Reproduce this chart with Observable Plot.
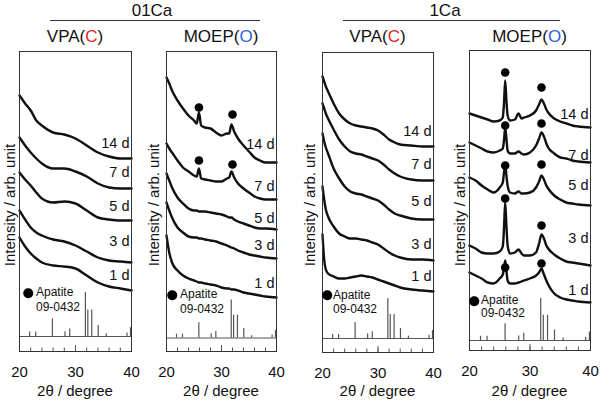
<!DOCTYPE html>
<html><head><meta charset="utf-8">
<script src="https://cdn.jsdelivr.net/npm/d3@7"></script>
<script src="https://cdn.jsdelivr.net/npm/@observablehq/plot@0.6"></script>
<style>
body{margin:0;background:#fff;font-family:"Liberation Sans",Arial,sans-serif;}
#chart{position:relative;width:600px;height:400px;overflow:hidden;background:#fff;}
#chart svg{position:absolute;left:0;top:0;}
.t{position:absolute;white-space:nowrap;color:#111;line-height:1;transform:translate(-50%,-50%);}
.l{position:absolute;white-space:nowrap;color:#111;line-height:1;transform:translate(0,-50%);}
.r{position:absolute;white-space:nowrap;color:#111;line-height:1;transform:translate(-50%,-50%) rotate(-90deg);}
.hl{position:absolute;height:0;border-top:1px solid #333;}
.cd{position:absolute;border-radius:50%;background:#000;transform:translate(-50%,-50%);}
</style></head><body><div id="chart"></div>
<script>
// ---- data ----
const days = ["14 d", "7 d", "5 d", "3 d", "1 d"];
const groups = ["01Ca", "1Ca"];
const additives = ["VPA", "MOEP"];
const additiveCodes = ["C", "O"];
const xTicks = [20, 30, 40];
const apatitePos = [21.82, 22.90, 25.88, 28.13, 28.97, 31.77, 32.20, 32.90, 34.05, 35.48, 39.20, 39.82];
const apatiteInt = [10, 10, 40, 11, 17, 100, 60, 60, 25, 6, 8, 20];
const apatiteLegend = ["Apatite", "09-0432"];

// 01Ca / VPA
const grid_vpa01 = [20, 21, 22, 23, 24, 26, 28, 30, 32, 34, 36, 38, 40];
const vpa01_14d = [256, 248, 241, 231, 226, 219, 217, 213, 206, 199, 195, 193, 193];
const vpa01_7d  = [214, 206, 199, 193, 188, 183, 183, 180, 175, 168, 164, 163, 163];
const vpa01_5d  = [179, 172, 166, 159, 153, 149, 150, 148, 141, 134, 132, 131, 131];
const vpa01_3d  = [141, 132, 124, 119, 116, 112, 110, 106, 100, 94, 91, 90, 89];
const vpa01_1d  = [114, 105, 98, 93, 89, 86, 85, 83, 76, 69, 65, 63, 61];
const vpa01_labelY = [208, 179, 145, 110, 76];

// 01Ca / MOEP
const grid_moep01 = [20, 20.5, 21, 22, 23, 24, 25, 25.5, 25.9, 26.3, 27, 28, 29, 30, 31, 31.4, 31.8, 32.3, 33, 34, 35, 36, 37, 38, 40];
const moep01_14d = [274, 268, 261, 251, 243, 236, 231, 228, 239, 226, 224, 223, 219, 216, 218, 218, 227, 220, 213, 206, 200, 194, 191, 189, 189];
const moep01_7d  = [208, 203, 199, 191, 184, 180, 176, 175, 183, 173, 172, 171, 170, 170, 173, 174, 180, 174, 168, 163, 159, 155, 153, 152, 152];
const moep01_5d  = [178, 171, 164, 154, 148, 143, 141, 141, 140, 140, 140, 139, 138, 137, 135, 134, 134, 132, 130, 128, 126, 124, 123, 123, 122];
const moep01_3d  = [149, 141, 134, 124, 119, 115, 114, 114, 113, 113, 112, 111, 110, 108, 106, 105, 104, 103, 101, 99, 97, 96, 95, 94, 93];
const moep01_1d  = [116, 99, 89, 81, 76, 73, 71, 70, 69, 69, 68, 67, 66, 64, 63, 63, 62, 62, 61, 59, 58, 57, 56, 55, 54];
const moep01_labelY = [207, 165, 133, 106, 68];
const moep01_dotX = [25.9, 32.0, 25.9, 32.0];
const moep01_dotY = [244, 237, 191, 187];

// 1Ca / VPA
const grid_vpa1 = [20, 20.3, 20.6, 21, 22, 23, 24, 25, 26, 27, 28, 29, 30, 31, 32, 33, 34, 36, 38, 40];
const vpa1_14d = [276, 271, 266, 261, 249, 239, 233, 229, 227, 226, 225, 224, 222, 218, 213, 210, 208, 207, 206, 206];
const vpa1_7d  = [249, 244, 239, 234, 223, 213, 206, 201, 199, 198, 196, 194, 192, 188, 183, 179, 176, 173, 172, 172];
const vpa1_5d  = [219, 211, 205, 199, 184, 174, 166, 161, 159, 158, 156, 154, 152, 148, 143, 139, 137, 134, 133, 133];
const vpa1_3d  = [166, 153, 143, 136, 126, 119, 116, 114, 114, 113, 112, 110, 108, 104, 100, 97, 95, 93, 93, 92];
const vpa1_1d  = [118, 93, 83, 79, 76, 74, 74, 75, 76, 77, 76, 75, 73, 71, 69, 67, 65, 63, 62, 61];
const vpa1_labelY = [221, 188, 151, 108, 76];

// 1Ca / MOEP
const grid_moep1 = [20, 21, 22, 23, 24, 25, 25.5, 25.7, 25.9, 26.1, 26.3, 26.7, 27.5, 28.1, 28.6, 29, 30, 31, 31.5, 31.9, 32.3, 32.7, 33, 34, 35, 36, 37, 38, 40];
const moep1_14d = [237, 235, 233, 231, 229, 230, 233, 247, 270, 250, 235, 230, 231, 237, 232, 233, 235, 240, 246, 251, 247, 241, 238, 232, 229, 227, 225, 224, 223];
const moep1_7d  = [208, 205, 202, 199, 198, 200, 202, 210, 223, 212, 200, 197, 197, 199, 197, 196, 198, 205, 212, 218, 214, 207, 203, 197, 193, 192, 190, 189, 188];
const moep1_5d  = [173, 170, 165, 161, 158, 163, 168, 178, 187, 175, 165, 158, 157, 159, 157, 157, 158, 163, 169, 175, 171, 165, 162, 155, 151, 148, 147, 146, 145];
const moep1_3d  = [105, 102, 98, 97, 97, 99, 104, 122, 148, 125, 105, 97, 98, 101, 97, 95, 95, 98, 107, 116, 112, 105, 102, 96, 92, 89, 88, 87, 85];
const moep1_1d  = [78, 75, 72, 68, 67, 72, 76, 82, 90, 80, 70, 67, 67, 68, 69, 70, 72, 75, 78, 82, 76, 70, 66, 57, 53, 51, 50, 49, 48];
const moep1_labelY = [236, 195, 165, 112, 60];
const moep1_dotX = [25.9, 31.9, 25.9, 31.9, 25.9, 31.9, 25.9, 31.9, 25.9, 31.9];
const moep1_dotY = [278, 263, 225, 227, 185, 186, 152, 125, 83, 87];

// ---- layout (pixels) ----
const panels = [
  {group: 0, add: 0, left: 19, right: 131, top: 51, bottom: 351, base: 15, stick: 0.44,
   grid: grid_vpa01, traces: [vpa01_14d, vpa01_7d, vpa01_5d, vpa01_3d, vpa01_1d], labelY: vpa01_labelY, dotX: [], dotY: [],
   yTitleX: 9, legend: {cx: 28, cy: 293, tx: 36, y1: 292, y2: 307}},
  {group: 0, add: 1, left: 166, right: 276, top: 51, bottom: 351, base: 13.5, stick: 0.38,
   grid: grid_moep01, traces: [moep01_14d, moep01_7d, moep01_5d, moep01_3d, moep01_1d], labelY: moep01_labelY, dotX: moep01_dotX, dotY: moep01_dotY,
   yTitleX: 153, legend: {cx: 172, cy: 295, tx: 180, y1: 294, y2: 309}},
  {group: 1, add: 0, left: 322, right: 433, top: 52, bottom: 352, base: 14, stick: 0.40,
   grid: grid_vpa1, traces: [vpa1_14d, vpa1_7d, vpa1_5d, vpa1_3d, vpa1_1d], labelY: vpa1_labelY, dotX: [], dotY: [],
   yTitleX: 309, legend: {cx: 327, cy: 295, tx: 333, y1: 295, y2: 309}},
  {group: 1, add: 1, left: 469, right: 590, top: 50, bottom: 350, base: 10, stick: 0.42,
   grid: grid_moep1, traces: [moep1_14d, moep1_7d, moep1_5d, moep1_3d, moep1_1d], labelY: moep1_labelY, dotX: moep1_dotX, dotY: moep1_dotY,
   yTitleX: 459, legend: {cx: 474, cy: 301, tx: 481, y1: 300, y2: 313}}
];
const headers = [
  {cx: 152, lineL: 50, lineR: 260},
  {cx: 445, lineL: 343, lineR: 560}
];

const chart = document.getElementById("chart");
const font = '"Liberation Sans", Arial, sans-serif';
const codeColors = ["#e8231f", "#2b5fe3"];

function addDiv(cls, x, y, html, size) {
  const d = document.createElement("div");
  d.className = cls;
  d.style.left = x + "px";
  d.style.top = y + "px";
  d.style.fontSize = size + "px";
  d.innerHTML = html;
  chart.appendChild(d);
  return d;
}

for (const p of panels) {
  const lines = p.traces.flatMap((vals, i) => vals.map((v, j) => ({x: p.grid[j], y: v, day: days[i]})));
  const labels = days.map((d, i) => ({day: d, y: p.labelY[i]}));
  const dots = p.dotX.map((x, i) => ({x, y: p.dotY[i]}));
  const sticks = apatitePos.map((x, i) => ({x, h: apatiteInt[i]}));
  const innerH = p.bottom - p.top;
  const svg = Plot.plot({
    width: 600, height: 400,
    marginLeft: p.left, marginRight: 600 - p.right, marginTop: p.top, marginBottom: 400 - p.bottom,
    style: {background: "none", fontFamily: font, fontSize: "15px", color: "#111", overflow: "visible"},
    x: {domain: [20, 40], ticks: xTicks, tickSize: 0, tickPadding: 15, tickFormat: d => String(d), label: null},
    y: {domain: [0, 300], axis: null},
    marks: [
      Plot.ruleX(d3.range(22, 40, 2), {stroke: "#555", strokeWidth: 1, insetTop: innerH - 3.5}),
      Plot.ruleX([30], {stroke: "#555", strokeWidth: 1, insetTop: innerH - 6}),
      Plot.ruleY([p.base], {stroke: "#555", strokeWidth: 1}),
      Plot.ruleX(sticks, {x: "x", y1: p.base, y2: d => p.base + d.h * p.stick, stroke: "#555", strokeWidth: 1.2}),
      Plot.line(lines, {x: "x", y: "y", z: "day", stroke: "#111", strokeWidth: 2.4, curve: "monotone-x"}),
      Plot.dot(dots, {x: "x", y: "y", r: 4.3, fill: "#000", stroke: "none"}),
      Plot.text(labels, {y: "y", text: "day", frameAnchor: "right", textAnchor: "end", dx: -2, fontSize: 14.5, fill: "#111"}),
      Plot.frame({stroke: "#333", strokeWidth: 1})
    ]
  });
  chart.appendChild(svg);

  const cx = (p.left + p.right) / 2;
  // panel title
  addDiv("t", cx, 36,
    additives[p.add] + "(<span style='color:" + codeColors[p.add] + "'>" + additiveCodes[p.add] + "</span>)", 17);
  // y title
  addDiv("r", p.yTitleX, 205, "Intensity / arb. unit", 15);
  // x title
  addDiv("t", cx, 389.5, "2θ / degree", 15);
  // legend
  const c = document.createElement("div");
  c.className = "cd";
  c.style.left = p.legend.cx + "px"; c.style.top = p.legend.cy + "px";
  c.style.width = "9.5px"; c.style.height = "9.5px";
  chart.appendChild(c);
  addDiv("l", p.legend.tx, p.legend.y1, apatiteLegend[0], 12);
  addDiv("l", p.legend.tx, p.legend.y2, apatiteLegend[1], 12);
}

headers.forEach((h, i) => {
  addDiv("t", h.cx, 10, groups[i], 17);
  const l = document.createElement("div");
  l.className = "hl";
  l.style.left = h.lineL + "px"; l.style.top = "20px"; l.style.width = (h.lineR - h.lineL) + "px";
  chart.appendChild(l);
});
</script></body></html>
